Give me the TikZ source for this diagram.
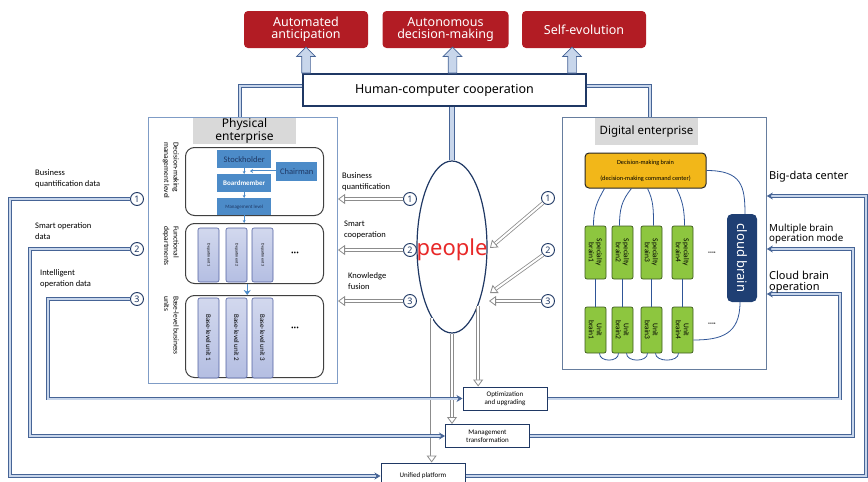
\documentclass[tikz,border=0pt]{standalone}
\usepackage{fontspec}
\setmainfont{Noto Sans}
\newfontfamily\calfont{Carlito}
\usetikzlibrary{arrows.meta,calc,shapes.geometric,shapes.arrows}
\newcommand\fs[2]{\fontsize{#1}{#2}\selectfont}
\definecolor{navy}{RGB}{31,56,100}
\definecolor{dblout}{RGB}{70,100,150}
\definecolor{dblin}{RGB}{200,214,235}
\definecolor{redc}{RGB}{178,28,36}
\definecolor{peopler}{RGB}{232,40,40}
\definecolor{bluebx}{RGB}{76,139,200}
\definecolor{lav}{RGB}{180,190,226}
\definecolor{lavd}{RGB}{80,95,160}
\definecolor{greenc}{RGB}{141,198,63}
\definecolor{greend}{RGB}{60,90,30}
\definecolor{yel}{RGB}{242,183,25}
\definecolor{cloudc}{RGB}{31,63,115}
\definecolor{grayt}{RGB}{217,217,217}
\definecolor{curvec}{RGB}{47,85,151}
\definecolor{pegray}{RGB}{140,140,140}
\definecolor{frameb}{RGB}{127,156,198}
\begin{document}
\begin{tikzpicture}[x=1pt,y=-1pt,
  redbox/.style={fill=redc, rounded corners=4pt, text=white, align=center, minimum height=37pt, font=\fs{12.5}{12}},
  dbl/.style={draw=dblout, double=dblin, double distance=2pt, line width=0.8pt},
  dblwide/.style={draw=dblout, double=dblin, double distance=4pt, line width=0.6pt},
  dtip/.style={-{Stealth[length=6pt,width=7pt]}},
  fatarr/.style={single arrow, draw=dblout, fill=dblin, line width=0.7pt, inner sep=4pt, single arrow head extend=5pt, minimum height=26pt, rotate=90, anchor=tail},
  circnum/.style={circle, draw=navy, line width=0.9pt, fill=white, inner sep=0pt, minimum size=13pt, font=\fs{9}{9}\bfseries, text=navy},
  grayarr/.style={draw=pegray, double=white, double distance=2pt, line width=0.8pt, -{Triangle[length=7pt,width=10pt,fill=white]}},
  roundbox/.style={draw=black!75, line width=1pt, rounded corners=9pt, anchor=north west, minimum width=138pt},
  bluebox/.style={fill=bluebx, inner sep=0pt, anchor=north west, minimum width=54pt},
  deptbox/.style={draw=lavd, line width=0.6pt, top color=lav!60, bottom color=lav, rounded corners=2pt, rotate=-90, minimum height=21pt, inner sep=0pt, align=center},
  greenbox/.style={draw=greend, line width=0.7pt, fill=greenc, rounded corners=2pt, rotate=-90, minimum height=21pt, inner sep=0pt, align=center, font=\calfont\fs{7.5}{8}},
  label/.style={align=left, anchor=west, inner sep=0pt, font=\calfont\fs{8.5}{11}},
  botbox/.style={draw=navy, line width=1pt, fill=white, minimum width=84pt, minimum height=23pt, align=center, font=\calfont\fs{7}{8}},
  curve/.style={draw=curvec, line width=0.8pt},
  smallarr/.style={draw=bluebx, line width=0.6pt, -{Stealth[length=3pt,width=3pt]}}
]
\useasboundingbox (0,0) rectangle (868,482);

% top outcome boxes
\node[redbox, minimum width=124pt] (r1) at (306,29.5) {Automated\\anticipation};
\node[redbox, minimum width=126pt] (r2) at (445.5,29.5) {Autonomous\\decision-making};
\node[redbox, minimum width=124pt] (r3) at (584,29.5) {Self-evolution};

% human computer cooperation
\node[draw=navy, line width=1.2pt, fill=white, minimum width=283pt, minimum height=32pt, font=\fs{12.5}{13}] (hcc) at (444.5,90) {Human-computer cooperation};

\node[fatarr] (fa1) at (hcc.north -| r1.south) {};
\node[fatarr] (fa2) at ($(hcc.north -| r2.south)+(7,0)$) {};
\node[fatarr] (fa3) at ($(hcc.north -| r3.south)+(-12,0)$) {};

% physical enterprise
\node[draw=frameb, line width=0.8pt, anchor=north west, minimum width=189pt, minimum height=266pt, inner sep=0pt] (pe) at (148,117) {};
\node[fill=grayt, anchor=north, minimum width=103pt, minimum height=26pt, inner sep=0pt, align=center, font=\fs{12}{11.5}] (pet) at (244.5,118) {Physical\\enterprise};

\node[roundbox, minimum height=68pt] (ba) at (185,147) {};
\node[roundbox, minimum height=60pt] (bb) at (185,223) {};
\node[roundbox, minimum height=82pt] (bc) at (185,295) {};

\node[rotate=-90, anchor=north west, align=left, inner sep=0pt, font=\calfont\fs{7.5}{9.5}] (lba) at (179,142) {Decision-making\\management level};
\node[rotate=-90, anchor=north west, align=left, inner sep=0pt, font=\calfont\fs{7.5}{9.5}] (lbb) at (179,226) {Functional\\departments};
\node[rotate=-90, anchor=north west, align=left, inner sep=0pt, font=\calfont\fs{7.5}{9.5}] (lbc) at (179,296) {Base-level business\\units};

\node[bluebox, minimum height=18pt, text=navy, font=\calfont\fs{8.5}{9}] (sh) at (217,150) {Stockholder};
\node[bluebox, minimum height=18pt, text=white, font=\calfont\fs{7}{8}\bfseries] (bm) at (217,174) {Boardmember};
\node[bluebox, minimum height=17pt, text=navy, font=\calfont\fs{5}{6}] (ml) at (217,198) {Management level};
\node[bluebox, minimum width=41pt, minimum height=19pt, text=navy, font=\calfont\fs{8.5}{9}] (ch) at (276,162) {Chairman};

\draw[smallarr] (sh.south) -- (bm.north);
\draw[smallarr] (bm.south) -- (ml.south |- ml.north);
\coordinate (chend) at (250,171);
\draw[draw=bluebx, double=white, double distance=1pt, line width=0.5pt, -{Stealth[length=3pt,width=4pt]}] (ch.west |- chend) -- (chend);
\draw[smallarr] (ml.south) -- (bb.north -| ml.south);
\draw[draw=bluebx, line width=0.8pt, -{Stealth[length=5pt,width=7pt]}] ($(bb.south -| ml.south)+(3,0)$) -- ($(bc.north -| ml.south)+(3,0)$);

\node[deptbox, minimum width=54pt, font=\calfont\fs{4}{4}] (d1) at (208.5,255) {Department 1};
\node[deptbox, minimum width=54pt, font=\calfont\fs{4}{4}] (d2) at (236.5,255) {Department 2};
\node[deptbox, minimum width=54pt, font=\calfont\fs{4}{4}] (d3) at (262.5,255) {Department 3};
\node[font=\fs{7}{7}] (dots1) at (295,254) {•••};
\node[deptbox, minimum width=80pt, font=\calfont\fs{7}{7}] (u1) at (208.5,338) {Base-level unit 1};
\node[deptbox, minimum width=80pt, font=\calfont\fs{7}{7}] (u2) at (236.5,338) {Base-level unit 2};
\node[deptbox, minimum width=80pt, font=\calfont\fs{7}{7}] (u3) at (262.5,338) {Base-level unit 3};
\node[font=\fs{7}{7}] (dots2) at (295,329) {•••};

% people
\node[ellipse, draw=navy, line width=1.2pt, fill=white, minimum width=70pt, minimum height=172pt, inner sep=0pt] (ppl) at (452,247) {};
\node[text=peopler, font=\fs{22}{22}] (pplt) at (452,250) {people};
\draw[dblwide] (hcc.south -| ppl.north) -- (ppl.north);

% HCC to enterprises
\coordinate (tl) at (240,86);
\coordinate (tr) at (650,86);
\draw[dbl] (hcc.west |- tl) -- (tl) -- (tl |- pe.north);

% digital enterprise
\node[draw=frameb!80!black, line width=0.8pt, anchor=north west, minimum width=204pt, minimum height=252pt, inner sep=0pt] (de) at (562,117) {};
\draw[dbl] (hcc.east |- tr) -- (tr) -- (tr |- de.north);
\node[fill=grayt, minimum width=103pt, minimum height=27pt, inner sep=0pt, font=\fs{11.5}{12}] (det) at (646.5,131.5) {Digital enterprise};
\node[fill=yel, draw=black!85, line width=1pt, rounded corners=4pt, minimum width=121pt, minimum height=35pt, inner sep=0pt, align=center, font=\calfont\fs{6.3}{16}] (db) at (645.5,170.5) {Decision-making brain\\(decision-making command center)};

\node[greenbox, minimum width=53pt] (s1) at (595.5,252.5) {Specialty\\brain1};
\node[greenbox, minimum width=53pt] (s2) at (622.5,252.5) {Specialty\\brain2};
\node[greenbox, minimum width=53pt] (s3) at (651.5,252.5) {Specialty\\brain3};
\node[greenbox, minimum width=53pt] (s4) at (682.5,252.5) {Specialty\\brain4};
\node[greenbox, minimum width=46pt] (b1) at (595.5,330) {Unit\\brain1};
\node[greenbox, minimum width=46pt] (b2) at (622.5,330) {Unit\\brain2};
\node[greenbox, minimum width=46pt] (b3) at (651.5,330) {Unit\\brain3};
\node[greenbox, minimum width=46pt] (b4) at (682.5,330) {Unit\\brain4};
\node[fill=cloudc, rounded corners=5pt, rotate=-90, minimum width=88pt, minimum height=30pt, inner sep=0pt, text=white, font=\fs{13}{13}] (cb) at (742,258) {cloud brain};
\node[font=\fs{5}{5}] (dots3) at (712,253) {••••};
\node[font=\fs{5}{5}] (dots4) at (712,324) {••••};

\draw[curve] ($(db.south west)+(20,0)$) .. controls +(-8,14) and +(0,-16) .. ($(s1.west)+(-2,0)$);
\draw[curve] ($(db.south west)+(47,0)$) .. controls +(-10,12) and +(0,-16) .. ($(s2.west)+(-3,0)$);
\draw[curve] ($(db.south west)+(63,0)$) .. controls +(6,12) and +(0,-16) .. ($(s3.west)+(2,0)$);
\draw[curve] ($(db.south west)+(92,0)$) .. controls +(6,12) and +(0,-16) .. ($(s4.west)+(2,0)$);
\draw[curve] (db.east) .. controls +(35,0) and +(0,-28) .. ($(cb.west)+(3,0)$);
\draw[curve] ($(cb.east)+(-2,0)$) .. controls +(0,32) and +(28,0) .. ($(b4.north)+(0,10)$);
\foreach \i in {1,...,4}{\draw[curve] (s\i.east) -- (b\i.west);}
\draw[curve] ($(b1.east)+(4,0)$) .. controls +(0,9) and +(0,9) .. ($(b2.east)+(-4,0)$);
\draw[curve] ($(b2.east)+(4,0)$) .. controls +(0,9) and +(0,9) .. ($(b3.east)+(-4,0)$);
\draw[curve] ($(b3.east)+(4,0)$) .. controls +(0,9) and +(0,9) .. ($(b4.east)+(-4,0)$);

% circled numbers near people
\node[circnum] (pl1) at (410,199) {1};
\node[circnum] (pl2) at (410,250) {2};
\node[circnum] (pl3) at (410,301) {3};
\node[circnum] (pr1) at (548,198) {1};
\node[circnum] (pr2) at (548,250) {2};
\node[circnum] (pr3) at (548,301) {3};
\coordinate (pla1) at (338,199);
\coordinate (pla2) at (338,250);
\coordinate (pla3) at (338,301);
\draw[grayarr] (pl1.west) -- (pla1);
\draw[grayarr] (pl2.west) -- (pla2);
\draw[grayarr] (pl3.west) -- (pla3);
\coordinate (pra1) at (490,248);
\coordinate (pra2) at (490,293);
\coordinate (pra3) at (489,301);
\draw[grayarr] (pr1.south west) -- (pra1);
\draw[grayarr] (pr2.south west) -- (pra2);
\draw[grayarr] (pr3.west) -- (pra3);
\node[label, font=\calfont\fs{8.5}{11}] (lq) at (342,182) {Business\\quantification};
\node[label, font=\calfont\fs{8.5}{11}] (lsc) at (344,230) {Smart\\cooperation};
\node[label, font=\calfont\fs{8.5}{11}] (lkf) at (348,281) {Knowledge\\fusion};

% bottom boxes
\node[botbox] (opt) at (505,398.5) {Optimization\\and upgrading};
\node[botbox] (mgmt) at (487.5,436) {Management\\transformation};
\node[botbox, minimum height=26pt] (unif) at (423,476) {Unified platform};

\draw[grayarr] (ppl.254) -- (ppl.254 |- unif.north);
\draw[grayarr] (ppl.south) -- (ppl.south |- mgmt.north);
\draw[grayarr] (ppl.294) -- (ppl.294 |- opt.north);

% left data lines
\node[circnum] (lc1) at (137,199) {1};
\node[circnum] (lc2) at (137,249) {2};
\node[circnum] (lc3) at (137,299) {3};
\coordinate (x1) at (10,0);
\coordinate (x2) at (30,0);
\coordinate (x3) at (48,0);
\draw[dbl, dtip] (lc1.west) -- (lc1.west -| x1) |- (unif.west);
\draw[dbl, dtip] (lc2.west) -- (lc2.west -| x2) |- (mgmt.west);
\draw[dbl, dtip] (lc3.west) -- (lc3.west -| x3) |- (opt.west);
\node[label] (l1) at (35,179) {Business\\quantification data};
\node[label] (l2) at (35,231) {Smart operation\\data};
\node[label] (l3) at (40,279) {Intelligent\\operation data};

% right data lines
\coordinate (y1) at (866,196);
\coordinate (y2) at (853,249);
\coordinate (y3) at (840,294);
\draw[dbl, dtip] (unif.east) -| (y1) -- (y1 -| de.east);
\draw[dbl, dtip] (mgmt.east) -| (y2) -- (y2 -| de.east);
\draw[dbl, dtip] (opt.east) -| (y3) -- (y3 -| de.east);
\node[label, font=\fs{11}{12}] (rl1) at (769,177) {Big-data center};
\node[label, font=\fs{9.8}{10.5}] (rl2) at (769,234) {Multiple brain\\operation mode};
\node[label, font=\fs{11}{10.5}] (rl3) at (769,282) {Cloud brain\\operation};
\end{tikzpicture}
\end{document}
